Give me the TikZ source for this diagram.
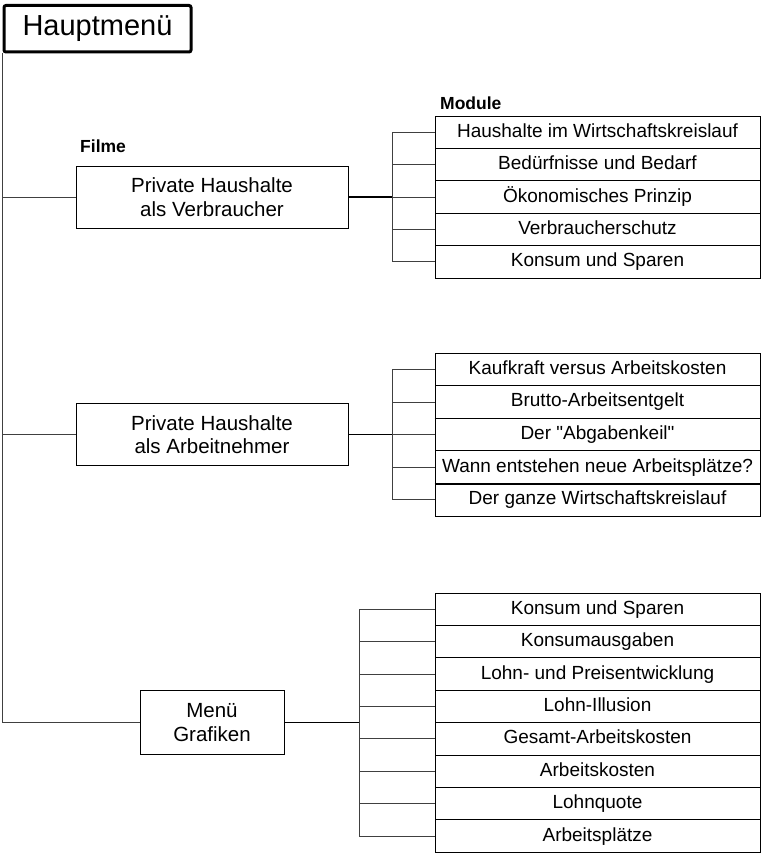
\documentclass[tikz,border=0pt]{standalone}
\usepackage{fontspec}
\newfontfamily\arial{Liberation Sans}
\begin{document}
\begin{tikzpicture}[x=1pt,y=-1pt,
  modbox/.style={draw, line width=0.8pt, minimum width=325pt, minimum height=32.4pt, inner sep=0pt, text height=13.5pt, text depth=3.5pt, font=\arial\fontsize{19}{22}\selectfont},
  mainbox/.style={draw, line width=0.9pt, align=center, inner sep=0pt, font=\arial\fontsize{20.5}{23.5}\selectfont},
  branch/.style={draw=black!75, line width=0.8pt},
  feed/.style={draw=black, line width=1.6pt},
  lbl/.style={font=\arial\fontsize{17.5}{20}\selectfont\bfseries, anchor=west, inner sep=0pt}]
\useasboundingbox (0,0) rectangle (762,853);

% main menu
\node[draw, line width=3pt, rounded corners=2pt, minimum width=187pt, minimum height=46.5pt, inner sep=0pt, font=\arial\fontsize{29}{32}\selectfont] (haupt) at (97.5,28.75) {Hauptmenü};

% labels
\node[lbl] (filme) at (80,146) {Filme};
\node[lbl] (module) at (440,103) {Module};

% first level boxes
\node[mainbox, minimum width=272pt, minimum height=62pt] (p1) at (212,197) {Private Haushalte\\als Verbraucher};
\node[mainbox, minimum width=272pt, minimum height=62pt] (p2) at (212,434.5) {Private Haushalte\\als Arbeitnehmer};
\node[mainbox, minimum width=144pt, minimum height=64pt] (menu) at (212,722.5) {Menü\\Grafiken};

% main trunk
\draw[branch] (haupt.south west) -- (haupt.south west |- menu.west) -- (menu.west);
\draw[branch] (haupt.south west |- p1.west) -- (p1.west);
\draw[branch] (haupt.south west |- p2.west) -- (p2.west);

% group 1 modules
\foreach \t [count=\i] in {Haushalte im Wirtschaftskreislauf, Bedürfnisse und Bedarf, Ökonomisches Prinzip, Verbraucherschutz, Konsum und Sparen}
  \node[modbox] (a\i) at (597.5, {116+32.4*(\i-0.5)}) {\t};
\coordinate (va) at (392,197);
\draw[feed] (p1.east) -- (va);
\draw[branch] (va |- a1.west) -- (va |- a5.west);
\foreach \i in {1,...,5} \draw[branch] (va |- a\i.west) -- (a\i.west);

% group 2 modules
\foreach \t [count=\i] in {Kaufkraft versus Arbeitskosten, Brutto-Arbeitsentgelt, Der "Abgabenkeil", Wann entstehen neue Arbeitsplätze?, Der ganze Wirtschaftskreislauf}
  \node[modbox, minimum height=32.6pt] (b\i) at (597.5, {353+32.6*(\i-0.5)}) {\t};
\draw[line width=1.6pt] (b2.south west) -- (b2.south east);
\draw[line width=1.6pt] (b4.south west) -- (b4.south east);
\coordinate (vb) at (392,434.5);
\draw[feed] (p2.east) -- (vb);
\draw[branch] (vb |- b1.west) -- (vb |- b5.west);
\foreach \i in {1,...,5} \draw[branch] (vb |- b\i.west) -- (b\i.west);

% group 3 modules
\foreach \t [count=\i] in {Konsum und Sparen, Konsumausgaben, Lohn- und Preisentwicklung, Lohn-Illusion, Gesamt-Arbeitskosten, Arbeitskosten, Lohnquote, Arbeitsplätze}
  \node[modbox] (c\i) at (597.5, {593+32.4*(\i-0.5)}) {\t};
\coordinate (vc) at (359,722.5);
\draw[feed] (menu.east) -- (vc);
\draw[branch] (vc |- c1.west) -- (vc |- c8.west);
\foreach \i in {1,...,8} \draw[branch] (vc |- c\i.west) -- (c\i.west);
\end{tikzpicture}
\end{document}
